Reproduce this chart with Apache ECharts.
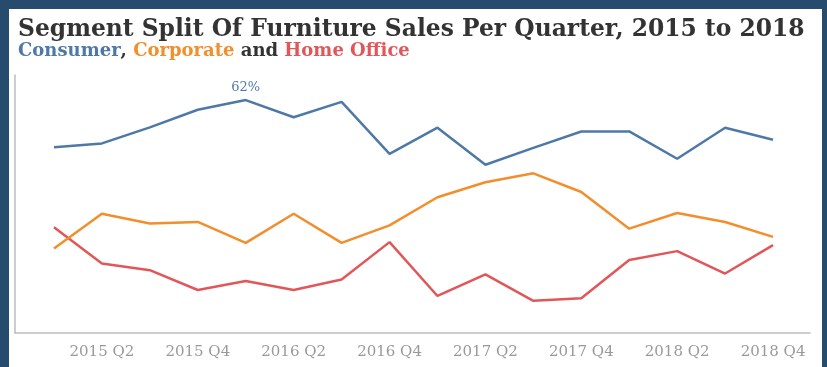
<!DOCTYPE html>
<html>
<head>
<meta charset="utf-8">
<script src="https://cdn.jsdelivr.net/npm/echarts@6/dist/echarts.min.js"></script>
<style>
html,body{margin:0;padding:0;background:#264b6c;}
#main{width:827px;height:367px;}
</style>
</head>
<body>
<div id="main"></div>
<script>
const quarters = ['2015 Q1','2015 Q2','2015 Q3','2015 Q4','2016 Q1','2016 Q2','2016 Q3','2016 Q4',
                  '2017 Q1','2017 Q2','2017 Q3','2017 Q4','2018 Q1','2018 Q2','2018 Q3','2018 Q4'];
const consumer   = [49.7,50.7,55.0,59.7,62.3,57.7,61.8,47.9,54.9,45.0,49.5,53.9,53.9,46.6,54.9,51.7];
const corporate  = [22.6,31.9,29.3,29.7,24.1,31.9,24.1,28.8,36.3,40.3,42.7,37.7,27.9,32.1,29.7,25.7];
const homeOffice = [28.3,18.6,16.8,11.5,13.9,11.5,14.3,24.3, 9.9,15.7, 8.6, 9.3,19.5,21.9,15.9,23.5];

const BLUE='#4e79a7', ORANGE='#f28e2b', RED='#e15759';
const serif = '"DejaVu Serif", serif';

const peakIdx = consumer.indexOf(Math.max(...consumer));
const consumerData = consumer.map((v,i)=> i===peakIdx ? {
  value:v,
  label:{show:true, position:'top', distance:6, color:BLUE, fontFamily:serif, fontSize:13,
         formatter:p=>Math.round(p.value)+'%'}
} : v);

const chart = echarts.init(document.getElementById('main'), null, {renderer:'canvas'});
chart.setOption({
  backgroundColor:'transparent',
  animation:false,
  graphic:[{type:'rect', z:-10, shape:{x:9,y:9,width:813,height:358}, style:{fill:'#ffffff'}, silent:true}],
  title:{
    left:13, top:13, itemGap:1,
    text:'Segment Split Of Furniture Sales Per Quarter, 2015 to 2018',
    textStyle:{fontFamily:serif, fontWeight:'bold', fontSize:23.4, color:'#333333'},
    subtext:'{b|Consumer}{k|, }{o|Corporate}{k| and }{r|Home Office}',
    subtextStyle:{
      fontFamily:serif, fontWeight:'bold', fontSize:18,
      rich:{
        b:{color:BLUE, fontFamily:serif, fontWeight:'bold', fontSize:18},
        o:{color:ORANGE, fontFamily:serif, fontWeight:'bold', fontSize:18},
        r:{color:RED, fontFamily:serif, fontWeight:'bold', fontSize:18},
        k:{color:'#333333', fontFamily:serif, fontWeight:'bold', fontSize:18}
      }
    }
  },
  grid:[
    {left:30, right:30, top:75, bottom:34},
    {left:15, right:17, top:75, bottom:34}
  ],
  xAxis:[
    {type:'category', gridIndex:0, data:quarters, boundaryGap:true,
     axisLine:{show:false}, axisTick:{show:false},
     axisLabel:{interval:(i)=>i%2===1, color:'#999999', fontFamily:serif, fontSize:15, margin:12}},
    {type:'value', gridIndex:1, min:0, max:1, axisLine:{show:true, lineStyle:{color:'#bdbdbd', width:1.5}},
     axisTick:{show:false}, axisLabel:{show:false}, splitLine:{show:false}}
  ],
  yAxis:[
    {type:'value', gridIndex:0, min:0, max:69, show:false, splitLine:{show:false}},
    {type:'value', gridIndex:1, min:0, max:1, axisLine:{show:true, lineStyle:{color:'#bdbdbd', width:1.5}},
     axisTick:{show:false}, axisLabel:{show:false}, splitLine:{show:false}}
  ],
  series:[
    {name:'Home Office', type:'line', data:homeOffice, showSymbol:false, lineStyle:{color:RED, width:2.5}, itemStyle:{color:RED}},
    {name:'Corporate', type:'line', data:corporate, showSymbol:false, lineStyle:{color:ORANGE, width:2.5}, itemStyle:{color:ORANGE}},
    {name:'Consumer', type:'line', data:consumerData, showSymbol:true, symbol:'circle', symbolSize:0,
     lineStyle:{color:BLUE, width:2.5}, itemStyle:{color:BLUE}}
  ]
});
</script>
</body>
</html>
